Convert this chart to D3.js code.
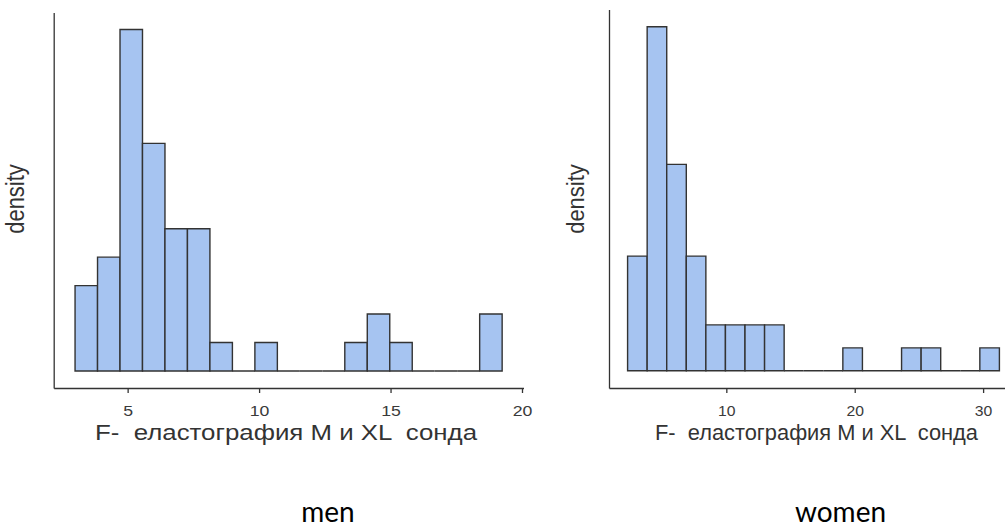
<!DOCTYPE html>
<html>
<head>
<meta charset="utf-8">
<script src="https://cdn.jsdelivr.net/npm/d3@7"></script>
<style>
  html, body { margin: 0; padding: 0; background: #fff; }
  svg { display: block; }
  text { white-space: pre; }
</style>
</head>
<body>
<svg id="chart" width="1005" height="529"></svg>
<script>
// Histogram counts per bin (equal-width bins between the range ends)
const menCounts   = [3, 4, 12, 8, 5, 5, 1, 0, 1, 0, 0, 0, 1, 2, 1, 0, 0, 0, 2];
const womenCounts = [5, 15, 9, 5, 2, 2, 2, 2, 0, 0, 0, 1, 0, 0, 1, 1, 0, 0, 1];
const menRange   = [3.0, 19.245];
const womenRange = [2.31, 31.27];
const menTicks   = [5, 10, 15, 20];
const womenTicks = [10, 20, 30];
const xTitle = "F-  еластография M и XL  сонда";
const yTitle = "density";
const groupNames = ["men", "women"];

const svg = d3.select("#chart");

const panels = [
  { counts: menCounts, range: menRange, ticks: menTicks, name: groupNames[0],
    x0: 53.7, x1: 523.5, yTop: 12.5, yBottom: 388, sx: 1.18,
    titleX: 286, titleLen: 382, yTitleX: 23.5, nameX: 328 },
  { counts: womenCounts, range: womenRange, ticks: womenTicks, name: groupNames[1],
    x0: 609, x1: 1018, yTop: 9.5, yBottom: 388, sx: 1.05,
    titleX: 816.5, titleLen: 323, yTitleX: 583.7, nameX: 840.5 }
];

panels.forEach(p => {
  const n = d3.sum(p.counts);
  const k = p.counts.length;
  const bw = (p.range[1] - p.range[0]) / k;
  const bins = p.counts.map((c, i) => ({
    lo: p.range[0] + i * bw,
    hi: p.range[0] + (i + 1) * bw,
    density: c / (n * bw)
  }));

  const span = p.range[1] - p.range[0];
  const x = d3.scaleLinear()
    .domain([p.range[0] - 0.05 * span, p.range[1] + 0.05 * span])
    .range([p.x0, p.x1]);
  const maxD = d3.max(bins, d => d.density);
  const y = d3.scaleLinear()
    .domain([-0.05 * maxD, 1.05 * maxD])
    .range([p.yBottom, p.yTop]);

  const g = svg.append("g");

  // bars (zero-count bins still show their outline along the baseline)
  g.append("g").selectAll("path")
    .data(bins)
    .join("path")
    .attr("d", d => {
      const xa = x(d.lo), xb = x(d.hi), y0 = y(0), y1 = y(d.density);
      return `M${xa},${y0}V${y1}H${xb}V${y0}Z`;
    })
    .attr("fill", d => d.density > 0 ? "#a6c4f1" : "none")
    .attr("stroke", "#333")
    .attr("stroke-width", 1.4);

  // x axis
  const xAxis = g.append("g")
    .attr("transform", `translate(0,${p.yBottom})`)
    .call(d3.axisBottom(x).tickValues(p.ticks).tickSizeInner(5).tickSizeOuter(0));
  xAxis.select(".domain").attr("stroke", "#333").attr("stroke-width", 1.3);
  xAxis.selectAll(".tick line").attr("stroke", "#333").attr("stroke-width", 1.3);
  xAxis.selectAll(".tick text")
    .attr("y", 0).attr("dy", 0)
    .attr("transform", `translate(0,27.5) scale(${p.sx},1)`)
    .attr("fill", "#3a3a3a")
    .attr("font-family", "'Liberation Sans', Arial, sans-serif")
    .attr("font-size", 15);

  // y axis line only
  const yAxis = g.append("g")
    .attr("transform", `translate(${p.x0},0)`)
    .call(d3.axisLeft(y).tickValues([]).tickSizeOuter(0));
  yAxis.select(".domain").attr("stroke", "#333").attr("stroke-width", 1.3);

  // axis titles
  g.append("text")
    .attr("x", p.titleX).attr("y", 440)
    .attr("text-anchor", "middle")
    .attr("textLength", p.titleLen)
    .attr("lengthAdjust", "spacingAndGlyphs")
    .attr("font-family", "'Liberation Sans', Arial, sans-serif")
    .attr("font-size", 22)
    .attr("fill", "#333")
    .text(xTitle);

  g.append("text")
    .attr("transform", `translate(${p.yTitleX},199) scale(${p.sx},1) rotate(-90)`)
    .attr("text-anchor", "middle")
    .attr("font-family", "'Liberation Sans', Arial, sans-serif")
    .attr("font-size", 22)
    .attr("fill", "#333")
    .text(yTitle);

  // group caption under each panel
  g.append("text")
    .attr("x", p.nameX).attr("y", 522)
    .attr("text-anchor", "middle")
    .attr("font-family", "Lato, 'Open Sans', sans-serif")
    .attr("font-size", 28)
    .attr("fill", "#000")
    .text(p.name);
});
</script>
</body>
</html>
